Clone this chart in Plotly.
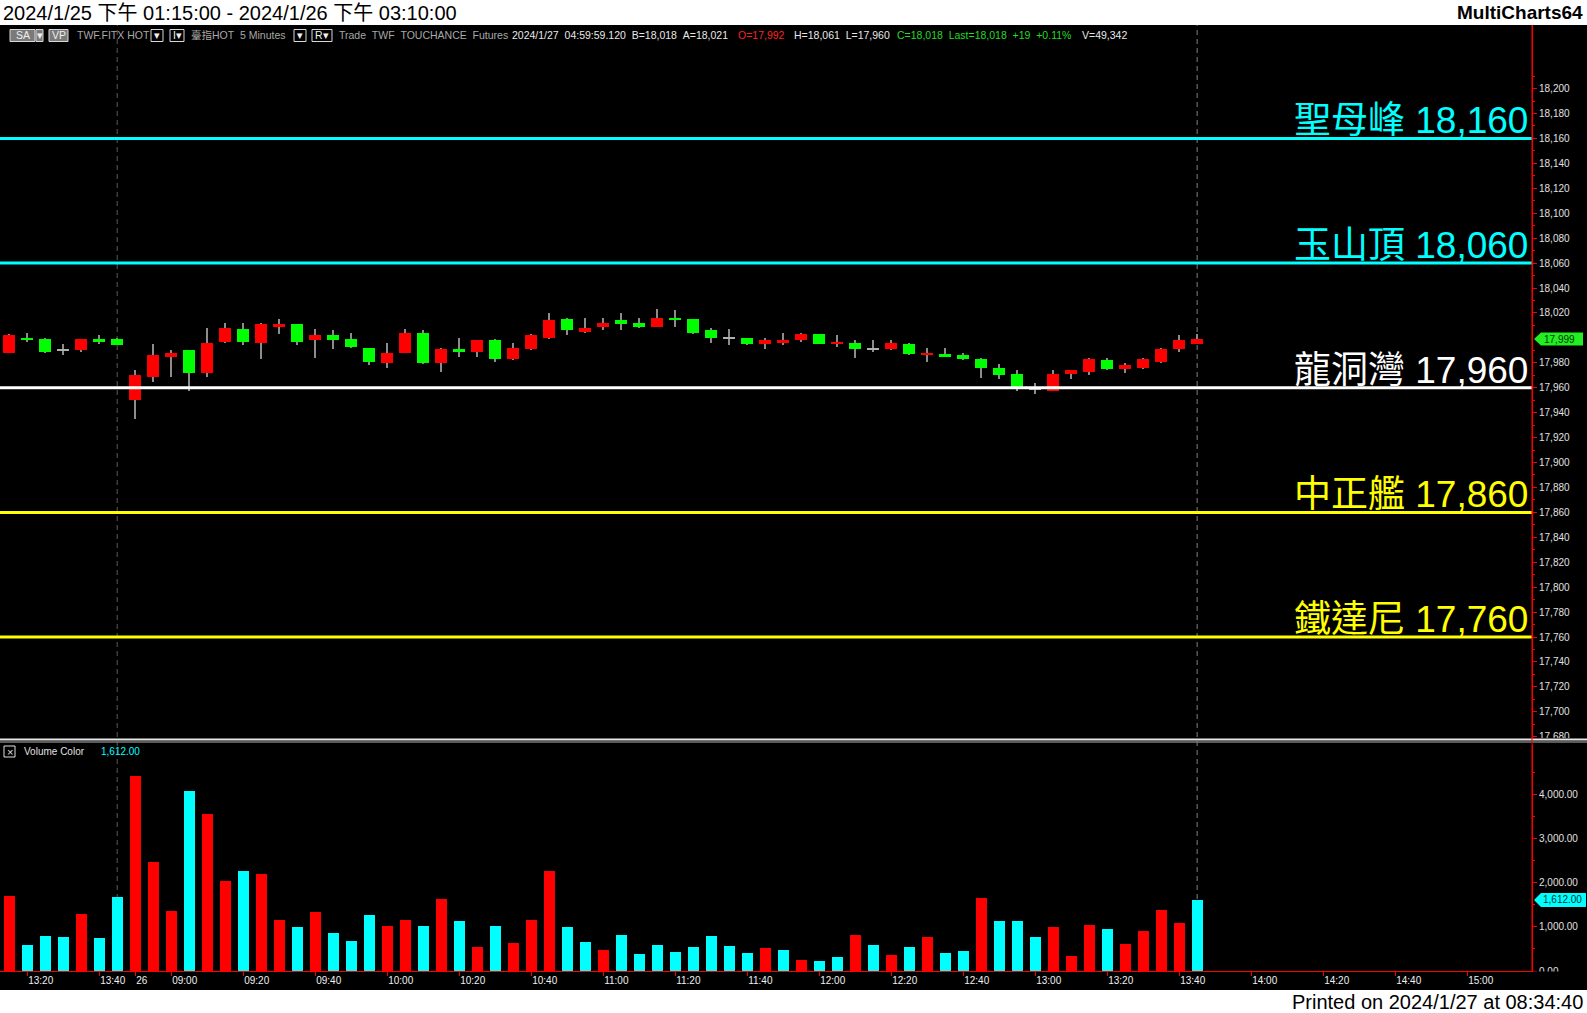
import plotly.graph_objects as go

# ---------------- data ----------------
day1_label, day1_start, day1_end = "25", "13:15", "13:45"
day2_label, day2_start, day2_end = "26", "08:50", "15:15"   # axis runs past the last bar

opens = [17988, 18000, 17999, 17990, 17990, 17999, 17999, 17950, 17969, 17985,
         17990, 17972, 17997, 18007, 17996, 18009, 18011, 17998, 18002, 17999,
         17992, 17980, 17988, 18004, 17980, 17991, 17989, 17998, 17983, 17991,
         18000, 18015, 18005, 18009, 18014, 18012, 18009, 18016, 18015, 18006,
         18000, 18000, 17995, 17996, 17998, 18003, 17995, 17996, 17991, 17991,
         17995, 17986, 17987, 17986, 17983, 17976, 17971, 17959, 17957, 17971,
         17973, 17982, 17975, 17976, 17981, 17991, 17995]
highs = [18003, 18004, 18000, 17995, 17999, 18002, 18000, 17974, 17995, 17990,
         17990, 18008, 18012, 18012, 18012, 18015, 18011, 18007, 18006, 18004,
         17992, 17996, 18007, 18006, 17992, 18000, 17998, 17999, 17996, 18003,
         18020, 18016, 18016, 18016, 18020, 18016, 18023, 18022, 18015, 18008,
         18007, 18000, 18000, 18004, 18004, 18003, 18002, 17998, 17998, 17998,
         17996, 17992, 17992, 17988, 17984, 17979, 17974, 17964, 17974, 17974,
         17984, 17984, 17980, 17984, 17992, 18002, 18003]
lows = [17988, 17997, 17988, 17986, 17989, 17995, 17994, 17935, 17965, 17969,
        17957, 17969, 17996, 17994, 17983, 18003, 17994, 17984, 17991, 17992,
        17978, 17976, 17988, 17979, 17973, 17985, 17985, 17981, 17982, 17990,
        17999, 18002, 18004, 18006, 18006, 18008, 18009, 18009, 18003, 17996,
        17994, 17994, 17991, 17994, 17997, 17995, 17993, 17984, 17989, 17990,
        17986, 17981, 17985, 17982, 17968, 17967, 17957, 17955, 17957, 17967,
        17970, 17974, 17972, 17975, 17980, 17989, 17995]
closes = [18002, 17998, 17989, 17990, 17999, 17997, 17994, 17970, 17986, 17988,
          17972, 17996, 18008, 17997, 18011, 18011, 17997, 18002, 17998, 17993,
          17981, 17988, 18004, 17980, 17991, 17989, 17998, 17983, 17992, 18002,
          18014, 18006, 18008, 18012, 18011, 18009, 18016, 18014, 18004, 18000,
          18000, 17995, 17998, 17998, 18003, 17995, 17997, 17991, 17991, 17996,
          17987, 17988, 17985, 17983, 17976, 17970, 17959, 17959, 17971, 17974,
          17983, 17975, 17978, 17983, 17991, 17998, 17999]
volumes = [1692, 586, 789, 767, 1286, 744, 1669, 4421, 2481, 1353,
           4083, 3564, 2030, 2278, 2211, 1150, 992, 1331, 857, 677,
           1263, 1015, 1150, 1015, 1624, 1128, 541, 1015, 632, 1150,
           2278, 992, 654, 474, 812, 383, 586, 429, 541, 789,
           564, 406, 519, 474, 248, 226, 316, 812, 586, 361,
           541, 767, 406, 451, 1647, 1128, 1128, 767, 992, 338,
           1038, 947, 609, 902, 1376, 1083, 1612]
volume_dirs = ["r", "c", "c", "c", "r", "c", "c", "r", "r", "r",
               "c", "r", "r", "c", "r", "r", "c", "r", "c", "c",
               "c", "r", "r", "c", "r", "c", "r", "c", "r", "r",
               "r", "c", "c", "r", "c", "c", "c", "c", "c", "c",
               "c", "c", "r", "c", "r", "c", "c", "r", "c", "r",
               "c", "r", "c", "c", "r", "c", "c", "c", "r", "r",
               "r", "c", "r", "r", "r", "r", "c"]

level_names = ["聖母峰", "玉山頂", "龍洞灣", "中正艦", "鐵達尼"]
level_values = [18160, 18060, 17960, 17860, 17760]
level_colors = ["#00FFFF", "#00FFFF", "#FFFFFF", "#FFFF00", "#FFFF00"]

price_tick_values = [17680, 17700, 17720, 17740, 17760, 17780, 17800, 17820, 17840, 17860,
                     17880, 17900, 17920, 17940, 17960, 17980, 18000, 18020, 18040, 18060,
                     18080, 18100, 18120, 18140, 18160, 18180, 18200]
volume_tick_values = [0, 1000, 2000, 3000, 4000]

title_text = "2024/1/25 下午 01:15:00 - 2024/1/26 下午 03:10:00"
brand_text = "MultiCharts64"
printed_text = "Printed on 2024/1/27 at 08:34:40"

# ---------------- time slots ----------------
def five_min_slots(start, end):
    h, m = map(int, start.split(":"))
    eh, em = map(int, end.split(":"))
    out = []
    while (h, m) <= (eh, em):
        out.append(f"{h:02d}:{m:02d}")
        m += 5
        if m >= 60:
            m -= 60
            h += 1
    return out

slots1 = five_min_slots(day1_start, day1_end)
slots2 = five_min_slots(day2_start, day2_end)
slots = slots1 + slots2
tick_vals, tick_text = [], []
for i, t in enumerate(slots):
    if i == len(slots1):
        tick_vals.append(i); tick_text.append(day2_label)
    elif int(t[3:]) % 20 == 0:
        tick_vals.append(i); tick_text.append(t)
session_ends = [i for i, t in enumerate(slots[:len(closes)]) if t == day1_end]

idx = list(range(len(closes)))

# price ticks: the last-price tag hides the label that sits under it
shown_price_ticks = [v for v in price_tick_values if abs(v - closes[-1]) > 8]
price_minor = [v + 10 for v in price_tick_values]

# ---------------- geometry helpers (layout only) ----------------
W, H = 1587, 1013
PL, PR, PT, PB = 0, 1532, 25, 971   # plot area in pixels
def px(x):
    return (x - PL) / (PR - PL)
def py(y):
    return (PB - y) / (PB - PT)

RED, GREEN, CYAN = "#FF0000", "#00FF00", "#00FFFF"
FONT = "Liberation Sans, Arial, Noto Sans CJK TC, sans-serif"

fig = go.Figure()

# wicks
fig.add_trace(go.Bar(x=idx, base=lows, y=[h - l for h, l in zip(highs, lows)],
                     width=0.06, marker=dict(color="#8c8c8c", line=dict(width=0)),
                     xaxis="x", yaxis="y", hoverinfo="skip", showlegend=False))
# bodies
body_base, body_h, body_col = [], [], []
for o, c in zip(opens, closes):
    if c == o:
        body_base.append(o - 0.4); body_h.append(0.8); body_col.append("#b0b0b0")
    else:
        body_base.append(min(o, c)); body_h.append(abs(c - o))
        body_col.append(RED if c > o else GREEN)
fig.add_trace(go.Bar(x=idx, base=body_base, y=body_h, width=0.68,
                     marker=dict(color=body_col, line=dict(width=0)),
                     xaxis="x", yaxis="y", showlegend=False))
# volume
fig.add_trace(go.Bar(x=idx, y=volumes, width=0.6,
                     marker=dict(color=[RED if d == "r" else CYAN for d in volume_dirs],
                                 line=dict(width=0)),
                     xaxis="x2", yaxis="y2", showlegend=False))

xr = [-0.511, 84.6]
price_range = [17679.0, 18251.0]
vol_range = [0, 5125]

shapes = []
annotations = []

# white bands top/bottom
shapes.append(dict(type="rect", xref="paper", yref="paper", x0=px(0), x1=px(W),
                   y0=py(0), y1=py(PT), fillcolor="white", line=dict(width=0), layer="above"))
shapes.append(dict(type="rect", xref="paper", yref="paper", x0=px(0), x1=px(W),
                   y0=py(990), y1=py(H), fillcolor="white", line=dict(width=0), layer="above"))

# level lines + labels
for name, val, col in zip(level_names, level_values, level_colors):
    shapes.append(dict(type="line", xref="paper", yref="y", x0=0, x1=1, y0=val, y1=val,
                       line=dict(color=col, width=3), layer="above"))
    annotations.append(dict(xref="paper", yref="y", x=px(1530), y=val, xanchor="right",
                            yanchor="bottom", yshift=-5, showarrow=False,
                            text=f'<span style="font-size:37px">{name}</span> {val:,}',
                            font=dict(family=FONT, size=37, color=col)))

# session-end dashed lines
for s in session_ends + [len(closes) - 1]:
    shapes.append(dict(type="line", xref="x", yref="paper", x0=s, x1=s, y0=0, y1=1,
                       line=dict(color="#5a5a5a", width=1, dash="5px,4px"), layer="below"))

# clip strips of the axis label column (price bottom / volume bottom)
shapes.append(dict(type="rect", xref="paper", yref="paper", x0=px(1533), x1=px(W),
                   y0=py(745), y1=py(738), fillcolor="black", line=dict(width=0), layer="above"))
shapes.append(dict(type="rect", xref="paper", yref="paper", x0=px(1533), x1=px(W),
                   y0=py(990), y1=py(971.5), fillcolor="black", line=dict(width=0), layer="above"))

# panel separator
shapes.append(dict(type="line", xref="paper", yref="paper", x0=0, x1=px(W), y0=py(739.5), y1=py(739.5),
                   line=dict(color="#e8e8e8", width=2), layer="above"))
shapes.append(dict(type="line", xref="paper", yref="paper", x0=0, x1=px(W), y0=py(742), y1=py(742),
                   line=dict(color="#7a7a7a", width=1.5), layer="above"))
# right axis line continuity
shapes.append(dict(type="line", xref="paper", yref="paper", x0=1, x1=1, y0=py(PT), y1=0,
                   line=dict(color=RED, width=1), layer="above"))

# last-price tag
shapes.append(dict(type="path", xref="paper", yref="y", xsizemode="pixel", ysizemode="pixel",
                   xanchor=1, yanchor=closes[-1],
                   path="M 2 0 L 9 6.5 L 51 6.5 L 51 -6.5 L 9 -6.5 Z",
                   fillcolor="#22ee22", line=dict(width=0), layer="above"))
annotations.append(dict(xref="paper", yref="y", x=1, y=closes[-1], xanchor="left", yanchor="middle",
                        xshift=10, showarrow=False, text=f"{closes[-1]:,}",
                        font=dict(family=FONT, size=10, color="#003300")))
# last-volume tag
shapes.append(dict(type="path", xref="paper", yref="y2", xsizemode="pixel", ysizemode="pixel",
                   xanchor=1, yanchor=volumes[-1],
                   path="M 2 0 L 9 7 L 54 7 L 54 -7 L 9 -7 Z",
                   fillcolor=CYAN, line=dict(width=0), layer="above"))
annotations.append(dict(xref="paper", yref="y2", x=1, y=volumes[-1], xanchor="left", yanchor="middle",
                        xshift=9, showarrow=False, text=f"{volumes[-1]:,.2f}",
                        font=dict(family=FONT, size=10, color="#003333")))

# volume legend
shapes.append(dict(type="rect", xref="paper", yref="paper", x0=px(4), x1=px(15), y0=py(746), y1=py(757),
                   line=dict(color="#e0e0e0", width=1), fillcolor="black", layer="above"))
annotations.append(dict(xref="paper", yref="paper", x=px(9.5), y=py(751.5), showarrow=False,
                        xanchor="center", yanchor="middle", text="×",
                        font=dict(family=FONT, size=11, color="#e0e0e0")))
annotations.append(dict(xref="paper", yref="paper", x=px(22), y=py(751.5), showarrow=False,
                        xanchor="left", yanchor="middle", text="Volume Color",
                        font=dict(family=FONT, size=10, color="#e0e0e0")))
annotations.append(dict(xref="paper", yref="paper", x=px(99), y=py(751.5), showarrow=False,
                        xanchor="left", yanchor="middle", text=f"{volumes[-1]:,.2f}",
                        font=dict(family=FONT, size=10, color=CYAN)))

# header buttons
HY0, HY1 = 29.5, 41.5
buttons = [(10, 35, "SA", "#7a7a7a", "#f0f0f0"), (36, 43, "▾", "#7a7a7a", "#f0f0f0"),
           (49, 68, "VP", "#7a7a7a", "#f0f0f0"),
           (151, 163, "▾", "black", "#f0f0f0"), (170, 184, "I▾", "black", "#f0f0f0"),
           (294, 306, "▾", "black", "#f0f0f0"), (312, 332, "R▾", "black", "#f0f0f0")]
for x0, x1, t, fc, tc in buttons:
    shapes.append(dict(type="rect", xref="paper", yref="paper", x0=px(x0), x1=px(x1),
                       y0=py(HY1), y1=py(HY0), fillcolor=fc, line=dict(color="#d8d8d8", width=1),
                       layer="above"))
    annotations.append(dict(xref="paper", yref="paper", x=px((x0 + x1) / 2), y=py(35.5),
                            showarrow=False, xanchor="center", yanchor="middle", text=t,
                            font=dict(family=FONT, size=10.5, color=tc)))
HG, HW, HR, HGR = "#a8a8a8", "#e8e8e8", "#ff2222", "#22dd22"
header_items = [
    (74.5, "TWF.FITX HOT", HG),
    (189, "臺指HOT\u00a0\u00a05 Minutes", HG),
    (337, "Trade\u00a0\u00a0TWF\u00a0\u00a0TOUCHANCE\u00a0\u00a0Futures", HG),
    (510, "2024/1/27\u00a0\u00a004:59:59.120\u00a0\u00a0B=18,018\u00a0\u00a0A=18,021", HW),
    (736, "O=17,992", HR),
    (792, "H=18,061\u00a0\u00a0L=17,960", HW),
    (895, "C=18,018\u00a0\u00a0Last=18,018\u00a0\u00a0+19\u00a0\u00a0+0.11%", HGR),
    (1080, "V=49,342", HW),
]
for x0, t, c in header_items:
    annotations.append(dict(xref="paper", yref="paper", x=px(x0), y=py(35.5), showarrow=False,
                            xanchor="left", yanchor="middle", text=t,
                            font=dict(family=FONT, size=10.5, color=c)))

# title / brand / printed
annotations.append(dict(xref="paper", yref="paper", x=px(1), y=py(12.5), showarrow=False,
                        xanchor="left", yanchor="middle", text=title_text,
                        font=dict(family=FONT, size=20, color="black")))
annotations.append(dict(xref="paper", yref="paper", x=px(1585), y=py(12.5), showarrow=False,
                        xanchor="right", yanchor="middle", text=f"<b>{brand_text}</b>",
                        font=dict(family=FONT, size=19, color="black")))
annotations.append(dict(xref="paper", yref="paper", x=px(1585), y=py(1001.5), showarrow=False,
                        xanchor="right", yanchor="middle", text=printed_text,
                        font=dict(family=FONT, size=20, color="black")))

fig.update_layout(
    width=W, height=H, autosize=False,
    margin=dict(l=PL, r=W - PR, t=PT, b=H - PB, pad=0),
    paper_bgcolor="black", plot_bgcolor="black",
    barmode="overlay", bargap=0, showlegend=False,
    font=dict(family=FONT, color="#e0e0e0"),
    xaxis=dict(domain=[0, 1], range=xr, anchor="y", showticklabels=False, showgrid=False,
               zeroline=False, showline=False, ticks=""),
    yaxis=dict(domain=[0.2463, 1], range=price_range, side="right", anchor="x",
               tickmode="array", tickvals=shown_price_ticks,
               ticktext=[f"{v:,}" for v in shown_price_ticks],
               ticks="outside", ticklen=4, tickcolor=RED, showline=True, linecolor=RED,
               showgrid=False, zeroline=False,
               minor=dict(tickmode="array", tickvals=price_minor, ticks="outside",
                          ticklen=2, tickcolor=RED),
               tickfont=dict(family=FONT, size=10, color="#e0e0e0")),
    xaxis2=dict(domain=[0, 1], range=xr, anchor="y2", tickmode="array", tickvals=tick_vals,
                ticktext=tick_text, ticks="outside", ticklen=4, tickcolor=RED, showline=True,
                linecolor=RED, showgrid=False, zeroline=False, ticklabelposition="outside right",
                tickfont=dict(family=FONT, size=10, color="#f0f0f0")),
    yaxis2=dict(domain=[0, 0.2389], range=vol_range, side="right", anchor="x2",
                tickmode="array", tickvals=volume_tick_values,
                ticktext=[f"{v:,.2f}" for v in volume_tick_values],
                ticks="outside", ticklen=4, tickcolor=RED, showline=True, linecolor=RED,
                showgrid=False, zeroline=False,
                minor=dict(tickmode="array", tickvals=[500, 1500, 2500, 3500, 4500],
                           ticks="outside", ticklen=2, tickcolor=RED),
                tickfont=dict(family=FONT, size=10, color="#e0e0e0")),
    shapes=shapes, annotations=annotations,
)

fig.write_html("out.html", config={"displayModeBar": False},
               post_script="document.body.style.margin='0';document.body.style.overflow='hidden';")
